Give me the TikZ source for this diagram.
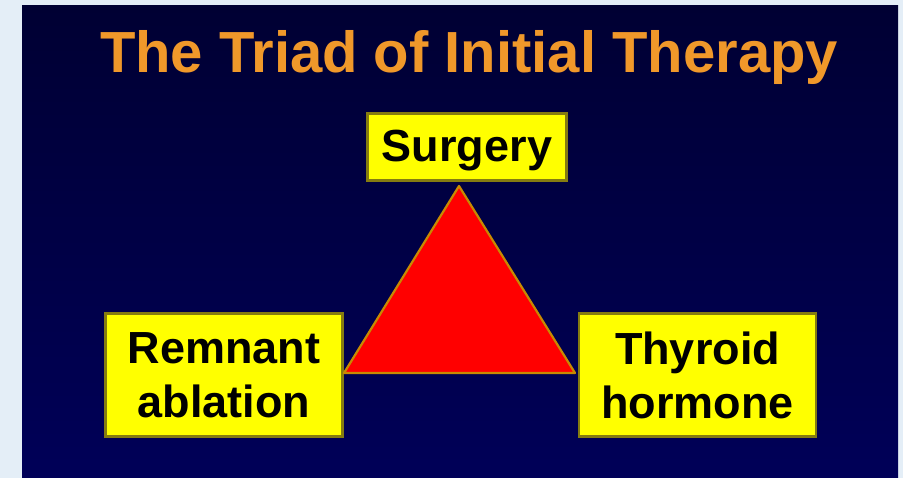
\documentclass[tikz,border=0pt]{standalone}
\usepackage{fontspec}
\setmainfont{Liberation Sans}
\usetikzlibrary{positioning}
\definecolor{slide}{HTML}{000033}
\definecolor{slide2}{HTML}{000058}
\definecolor{frame}{HTML}{E4EEF7}
\definecolor{titleor}{HTML}{F0982A}
\definecolor{boxyel}{HTML}{FFFF00}
\definecolor{boxedge}{HTML}{857C10}
\definecolor{triedge}{HTML}{C88A00}

\begin{document}
\begin{tikzpicture}[x=1pt,y=-1pt,
  every node/.style={font=\bfseries,align=center},
  labbox/.style={rectangle,draw=boxedge,line width=2.2pt,fill=boxyel,
               minimum width=237pt,minimum height=123pt,inner sep=0pt,
               font=\fontsize{45}{54}\selectfont\bfseries},
  ttl/.style={text=titleor,font=\fontsize{58}{70}\selectfont\bfseries},
]
\fill[frame] (0,0) rectangle (903,478);
\shade[top color=slide,bottom color=slide2] (22,6) rectangle (898,478);
\useasboundingbox (0,0) rectangle (903,478);

\node[ttl,anchor=base] (title) at (469,73) {The Triad of Initial Therapy};
\node[labbox,minimum width=199pt,minimum height=67pt,
      text height=36pt,text depth=6pt] (surg) at (467,147) {Surgery};
\node[labbox] (remn) at (224,375) {Remnant\\ablation};
\node[labbox] (thyr) at (697.5,375) {Thyroid\\hormone};

\filldraw[fill=red,draw=triedge,line width=2.2pt,line join=round]
  (459,186) -- (575,373) -- (344,373) -- cycle;
\end{tikzpicture}
\end{document}
